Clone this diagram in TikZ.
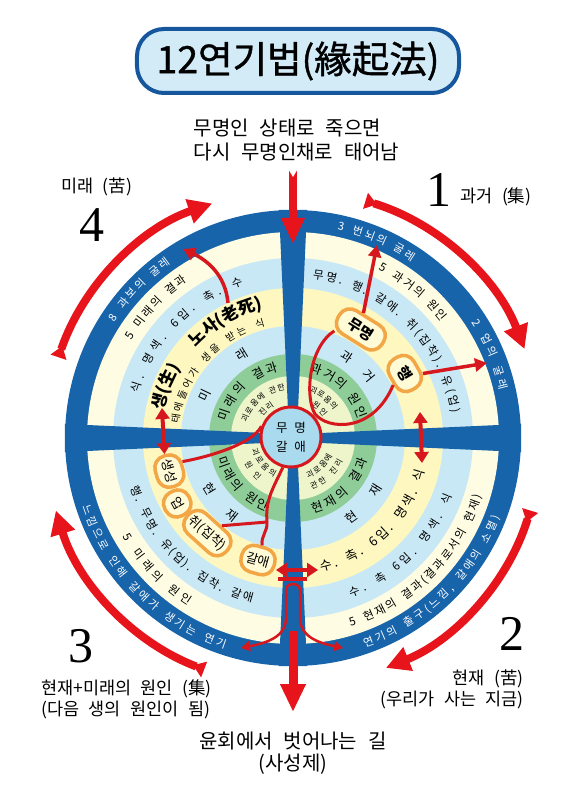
\documentclass[tikz,border=0pt]{standalone}
\usepackage{fontspec}
\usepackage{xcolor}
\usepackage{tikz}
\usetikzlibrary{arrows.meta, shapes.misc, positioning, decorations.text}

\newfontfamily\kr{Noto Sans CJK KR}[WordSpace=2.4]
\newfontfamily\krring{Noto Sans CJK KR}[WordSpace=1.8, Scale=0.999]
\newfontfamily\krtitle{Noto Sans CJK KR}[FakeBold=1]
\newfontfamily\numfont{Liberation Serif}

\definecolor{ringblue}{RGB}{24,100,170}
\definecolor{creamband}{RGB}{254,252,226}
\definecolor{skyband}{RGB}{200,232,245}
\definecolor{yellowband}{RGB}{254,248,192}
\definecolor{greenband}{RGB}{142,205,152}
\definecolor{innerband}{RGB}{238,245,202}
\definecolor{corefill}{RGB}{170,218,238}
\definecolor{arrowred}{RGB}{232,20,28}
\definecolor{linered}{RGB}{214,24,30}
\definecolor{ovalorange}{RGB}{242,166,70}
\definecolor{ovalfill}{RGB}{255,251,214}
\definecolor{titlefill}{RGB}{210,235,247}
\definecolor{titleline}{RGB}{22,86,156}

\begin{document}
\begin{tikzpicture}[
    x=1pt, y=1pt,
    ringtxt/.style n args={3}{decorate, decoration={text along path, text align={fit to path}, text color=#2, text={|\krring\fontsize{#1}{#1}\selectfont|#3}}},
    ringbold/.style n args={3}{decorate, decoration={text along path, text align={fit to path}, text color=#2, text={|\krring\bfseries\fontsize{#1}{#1}\selectfont|#3}}},
    linkbox/.style={rectangle, rounded corners=12pt, draw=ovalorange, line width=3.5pt, fill=ovalfill, minimum width=26pt, minimum height=27pt, inner xsep=4pt, inner ysep=1pt, font=\kr\fontsize{13}{13}\selectfont},
    keybox/.style={linkbox, font=\kr\bfseries\fontsize{15}{15}\selectfont},
    titlebox/.style={rectangle, rounded corners=27pt, draw=titleline, line width=4pt, fill=titlefill, minimum width=322pt, minimum height=64pt, font=\krtitle\fontsize{37.5}{37.5}\selectfont},
    redline/.style={draw=linered, line width=3pt},
    onehead/.style={redline, line width=3.5pt, -{Triangle[length=12pt,width=13pt]}},
    twohead/.style={redline, line width=4pt, {Triangle[length=11pt,width=14pt]}-{Triangle[length=11pt,width=14pt]}},
    bigarc/.style={draw=arrowred, line width=8pt, {Triangle[reversed,length=12pt,width=16pt]}-{Triangle[length=24pt,width=24pt]}},
    sidenote/.style={font=\kr\fontsize{17.5}{21}\selectfont, inner sep=0pt},
    bignum/.style={font=\numfont\fontsize{50}{50}\selectfont, inner sep=0pt}
]
\useasboundingbox (-293,-351) rectangle (287,438);

% Rings
\fill[ringblue] (0,0) circle[radius=228];
\fill[creamband] (0,0) circle[radius=206];
\fill[skyband] (0,0) circle[radius=180];
\fill[yellowband] (0,0) circle[radius=150];
\fill[skyband] (0,0) circle[radius=112];
\fill[greenband] (0,0) circle[radius=84];
\fill[innerband] (0,0) circle[radius=62];

% Spokes
\foreach \a in {0,90,180,270}
    \fill[ringblue, rotate=\a] (28,-5) -- (228,-14) -- (228,14) -- (28,5) -- cycle;

% Past (upper right)
\path[ringtxt={11}{white}{3 번뇌의 굴레}] (78:212.8) arc[start angle=78, end angle=56, radius=212.8];
\path[ringtxt={11}{white}{2 업의 굴레}] (33:212.8) arc[start angle=33, end angle=13, radius=212.8];
\path[ringtxt={11.5}{black}{5 과거의 원인}] (63:188.6) arc[start angle=63, end angle=38, radius=188.6];
\path[ringtxt={11.5}{black}{무명. 행. 갈애. 취(집착). 유(업)}] (83:160.6) arc[start angle=83, end angle=9, radius=160.6];
\path[ringtxt={12.5}{black}{과 거}] (60:93.25) arc[start angle=60, end angle=36, radius=93.25];
\path[ringtxt={12.5}{black}{과거의 원인}] (76:68.25) arc[start angle=76, end angle=16, radius=68.25];
\path[ringtxt={8}{black}{괴로움의}] (71:49) arc[start angle=71, end angle=34, radius=49];
\path[ringtxt={8}{black}{원인}] (60:37) arc[start angle=60, end angle=35, radius=37];

% Future (upper left)
\path[ringtxt={11}{white}{8 과보의 굴레}] (147:212.8) arc[start angle=147, end angle=125, radius=212.8];
\path[ringtxt={11.5}{black}{5 미래의 결과}] (149:188.6) arc[start angle=149, end angle=124, radius=188.6];
\path[ringtxt={11.5}{black}{식. 명색. 6입. 촉. 수}] (164:160.6) arc[start angle=164, end angle=108, radius=160.6];
\path[ringbold={17}{black}{생(生)}] (168:132.5) arc[start angle=168, end angle=148, radius=132.5];
\path[ringbold={17}{black}{노사(老死)}] (137:132.5) arc[start angle=137, end angle=103, radius=132.5];
\path[ringtxt={10}{black}{태에들어가 생을 받는 식}] (173:115.2) arc[start angle=173, end angle=104, radius=115.2];
\path[ringtxt={12.5}{black}{미 래}] (158:93.25) arc[start angle=158, end angle=118, radius=93.25];
\path[ringtxt={12.5}{black}{미래의 결과}] (166:68.25) arc[start angle=166, end angle=102, radius=68.25];
\path[ringtxt={8}{black}{괴로움에 관한}] (162:49) arc[start angle=162, end angle=99, radius=49];
\path[ringtxt={8}{black}{진리}] (145:37) arc[start angle=145, end angle=120, radius=37];

% Present results (lower right)
\path[ringtxt={11}{white}{연기의 출구(느낌, 갈애의 소멸)}] (-71:221.2) arc[start angle=-71, end angle=-21, radius=221.2];
\path[ringtxt={11.5}{black}{5 현재의 결과(결과로서의 현재)}] (-73:197.4) arc[start angle=-73, end angle=-17, radius=197.4];
\path[ringtxt={11.5}{black}{수. 촉 6입. 명색. 식}] (-70:169.4) arc[start angle=-70, end angle=-20, radius=169.4];
\path[ringtxt={13}{black}{수. 촉. 6입. 명색. 식}] (-78:135.9) arc[start angle=-78, end angle=-14, radius=135.9];
\path[ringtxt={12.5}{black}{현 재}] (-57:102.75) arc[start angle=-57, end angle=-29, radius=102.75];
\path[ringtxt={12.5}{black}{현재의 결과}] (-75:77.75) arc[start angle=-75, end angle=-16, radius=77.75];
\path[ringtxt={8}{black}{괴로움에}] (-70:43) arc[start angle=-70, end angle=-24, radius=43];
\path[ringtxt={8}{black}{관한 진리}] (-70:55) arc[start angle=-70, end angle=-25, radius=55];

% Present causes (lower left)
\path[ringtxt={11}{white}{느낌으로 인해 갈애가 생기는 연기}] (198:221.2) arc[start angle=198, end angle=252, radius=221.2];
\path[ringtxt={11.5}{black}{5 미래의 원인}] (210:197.4) arc[start angle=210, end angle=238, radius=197.4];
\path[ringtxt={11.5}{black}{행. 무명. 유(업). 집착. 갈애}] (197:169.4) arc[start angle=197, end angle=256, radius=169.4];
\path[ringtxt={12.5}{black}{현 재}] (208:102.75) arc[start angle=208, end angle=235, radius=102.75];
\path[ringtxt={12.5}{black}{미래의 원인}] (195:77.75) arc[start angle=195, end angle=250, radius=77.75];
\path[ringtxt={8}{black}{괴로움의}] (196:43) arc[start angle=196, end angle=244, radius=43];
\path[ringtxt={8}{black}{원인}] (208:55) arc[start angle=208, end angle=230, radius=55];

% Centre
\node[circle, draw=linered, line width=3pt, fill=corefill, minimum size=60pt, inner sep=0pt, align=center, font=\kr\fontsize{12.5}{19}\selectfont] (core) at (-2,1) {무 명\\갈 애};

% Links
\node[keybox, rotate=-32, inner xsep=12pt] (mumyeong) at (58:128) {무명};
\node[keybox, rotate=-60, inner xsep=11pt, minimum height=28pt] (haeng) at (30:129) {행};
\node[linkbox, rotate=-74] (saengseong) at (195:128) {생성};
\node[linkbox, rotate=-61] (eop) at (209.5:133) {업};
\node[linkbox, rotate=-42] (chwi) at (228:128) {취(집착)};
\node[linkbox, rotate=-16, inner xsep=5pt] (galae) at (254:127) {갈애};

\coordinate (beonoe) at (84,193);
\coordinate (eopkul) at (194,75);
\coordinate (nosa) at (-65,135);
\coordinate (gwabo) at (-110,189);
\coordinate (sikTop) at (127,26);
\coordinate (sikBot) at (129,-25);
\coordinate (saengTop) at (-131,30);
\coordinate (suPt) at (25,-132);
\coordinate (join) at (-26,-84);

% Red links
\draw[redline] (mumyeong.215) .. controls (15,90) and (12,40) .. (22,24) .. controls (35,8) and (80,5) .. (haeng.285);
\draw[redline] (core.160) .. controls (-40,-5) and (-80,-18) .. (saengseong.110);
\draw[redline] (core.255) to[out=245, in=95] (join) to[out=275, in=100] (galae.north);
\draw[redline] (chwi.69) -- (join);

\draw[onehead] (mumyeong.113) -- (beonoe);
\draw[onehead] (haeng.60) -- (eopkul);
\draw[onehead] (nosa) to[out=95, in=-25] (gwabo);
\draw[twohead] (sikTop) -- (sikBot);
\draw[twohead] (saengTop) -- (saengseong.west);
\draw[twohead] (galae.east |- suPt) -- (suPt);

% Exit
\coordinate (barL) at (-15,-141);
\coordinate (barR) at (14,-141);
\coordinate (forkL) at (-52,-210);
\coordinate (forkR) at (50,-210);
\coordinate (exitTop) at (0,-193);
\coordinate (exitTip) at (0,-274);
\draw[redline, line width=4pt] (barL) -- (barR);
\draw[redline, line width=2.5pt, {Triangle[length=9pt,width=10pt]}-{Triangle[length=9pt,width=10pt]}]
    (forkL) to[out=12, in=270] (-7,-180) -- (-7,-152) to[out=90, in=180] (0,-146)
    to[out=0, in=90] (7,-152) -- (7,-180) to[out=270, in=168] (forkR);
\draw[arrowred, line width=9pt, -{Triangle[length=28pt,width=24pt]}] (exitTop) -- (exitTip);

% Rebirth
\coordinate (rebirthTail) at (0,268);
\coordinate (rebirthTip) at (0,194);
\draw[arrowred, line width=8pt, -{Triangle[length=26pt,width=22pt]}] (rebirthTail) -- (rebirthTip);
\fill[white] (-4.5,268.5) -- (4.5,268.5) -- (0,261) -- cycle;

% Cycle arcs
\draw[bigarc] (73:248) arc[start angle=73, end angle=21, radius=248];
\draw[bigarc] (-17:248) arc[start angle=-17, end angle=-68, radius=248];
\draw[bigarc] (-111:248) arc[start angle=-111, end angle=-163, radius=248];
\draw[bigarc] (161:248) arc[start angle=161, end angle=109, radius=248];

% Labels
\node[titlebox] (title) at (5,377) {12연기법(緣起法)};
\node[font=\kr\fontsize{20}{24.5}\selectfont, align=left] (deathnote) at (3.5,298) {무명인 상태로 죽으면\\다시 무명인채로 태어남};

\node[bignum] (num4) at (-201,213) {4};
\node[sidenote] (futurelabel) at (-196.5,251) {미래 (苦)};
\node[bignum] (num1) at (145.5,248) {1};
\node[sidenote, right=9pt of num1, yshift=-7pt] (pastlabel) {과거 (集)};
\node[bignum] (num2) at (219,-196) {2};
\node[sidenote, anchor=east, align=right] (nowlabel) at (231,-251) {현재 (苦)\\(우리가 사는 지금)};
\node[bignum] (num3) at (-212,-208) {3};
\node[sidenote, anchor=west, align=left] (causelabel) at (-252,-261) {현재+미래의 원인 (集)\\(다음 생의 원인이 됨)};
\node[font=\kr\fontsize{20}{22.5}\selectfont, align=center] (escape) at (0,-315) {윤회에서 벗어나는 길\\(사성제)};
\end{tikzpicture}
\end{document}
